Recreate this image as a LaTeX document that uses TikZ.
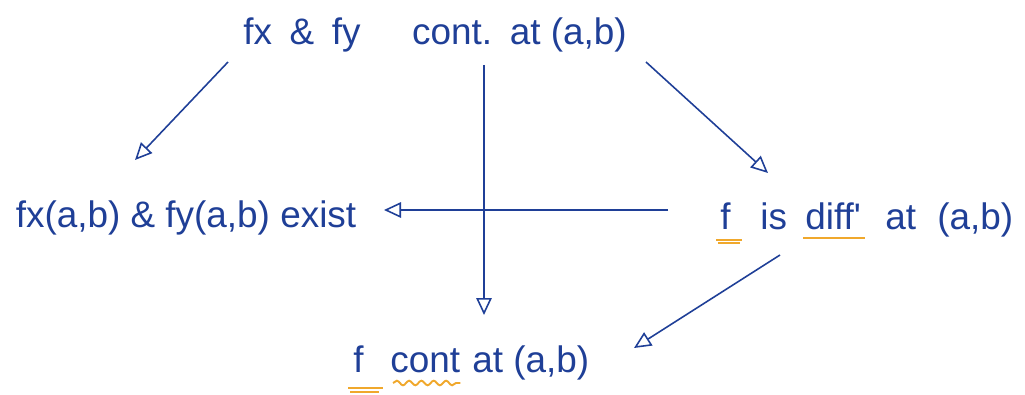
\documentclass[tikz,border=0pt]{standalone}
\usepackage{fontspec}
\setmainfont{Liberation Sans}
\usetikzlibrary{arrows.meta,decorations.pathmorphing,positioning}
\definecolor{Pen}{HTML}{1F3F97}
\definecolor{Marker}{HTML}{F0A82C}
\tikzset{
  flowarrow/.style={-{Triangle[open,length=3.4mm,width=3.1mm]},line width=0.9pt,draw=Pen},
  phrase/.style={inner sep=0pt,text=Pen,font=\fontsize{21}{25}\selectfont},
  marker/.style={draw=Marker,line width=1.1pt},
  squiggle/.style={marker,decorate,decoration={snake,amplitude=1.3pt,segment length=7pt}},
}

\begin{document}
\begin{tikzpicture}[x=0.02cm,y=-0.02cm]
    \useasboundingbox (0,0) rectangle (1025,395);

    \node[phrase,anchor=base] (top) at (435,45) {fx \hspace{0.2em}\& \hspace{0.2em}fy\hspace{1.4em}cont.\ \hspace{0.2em}at (a,b)};
    \node[phrase,anchor=base] (exist) at (186,228) {fx(a,b) \& fy(a,b) exist};

    \node[phrase,anchor=base west] (rf) at (720,230) {f};
    \node[phrase,anchor=base west] (ris) at (760,230) {is};
    \node[phrase,anchor=base west] (rdiff) at (805,230) {diff\textquotesingle};
    \node[phrase,anchor=base west] (rat) at (885,230) {at \hspace{0.3em}(a,b)};

    \node[phrase,anchor=base west] (bf) at (353,372) {f};
    \node[phrase,anchor=base west] (bcont) at (390,372) {cont};
    \node[phrase,anchor=base west] (bat) at (472,372) {at (a,b)};

    \draw[flowarrow] ([shift={(-207,17)}]top.base) -- ([shift={(-51,-68)}]exist.base);
    \draw[flowarrow] ([shift={(49,20)}]top.base) -- ([shift={(12,-57)}]bat.base west);
    \draw[flowarrow] ([shift={(211,17)}]top.base) -- ([shift={(48,-57)}]rf.base west);
    \draw[flowarrow] ([shift={(-52,-20)}]rf.base west) -- ([shift={(198,-18)}]exist.base);
    \draw[flowarrow] ([shift={(20,25)}]ris.base west) -- ([shift={(162,-24)}]bat.base west);

    % orange highlights
    \draw[marker] ([shift={(-4,10)}]rf.base west) -- ([shift={(22,10)}]rf.base west);
    \draw[marker] ([shift={(-2,13)}]rf.base west) -- ([shift={(20,13)}]rf.base west);
    \draw[marker] ([shift={(-2,8)}]rdiff.base west) -- ([shift={(60,8)}]rdiff.base west);
    \draw[marker] ([shift={(-5,16)}]bf.base west) -- ([shift={(30,16)}]bf.base west);
    \draw[marker] ([shift={(-3,20)}]bf.base west) -- ([shift={(26,20)}]bf.base west);
    \draw[squiggle] ([shift={(3,11)}]bcont.base west) -- ([shift={(0,11)}]bcont.base east);
\end{tikzpicture}
\end{document}
